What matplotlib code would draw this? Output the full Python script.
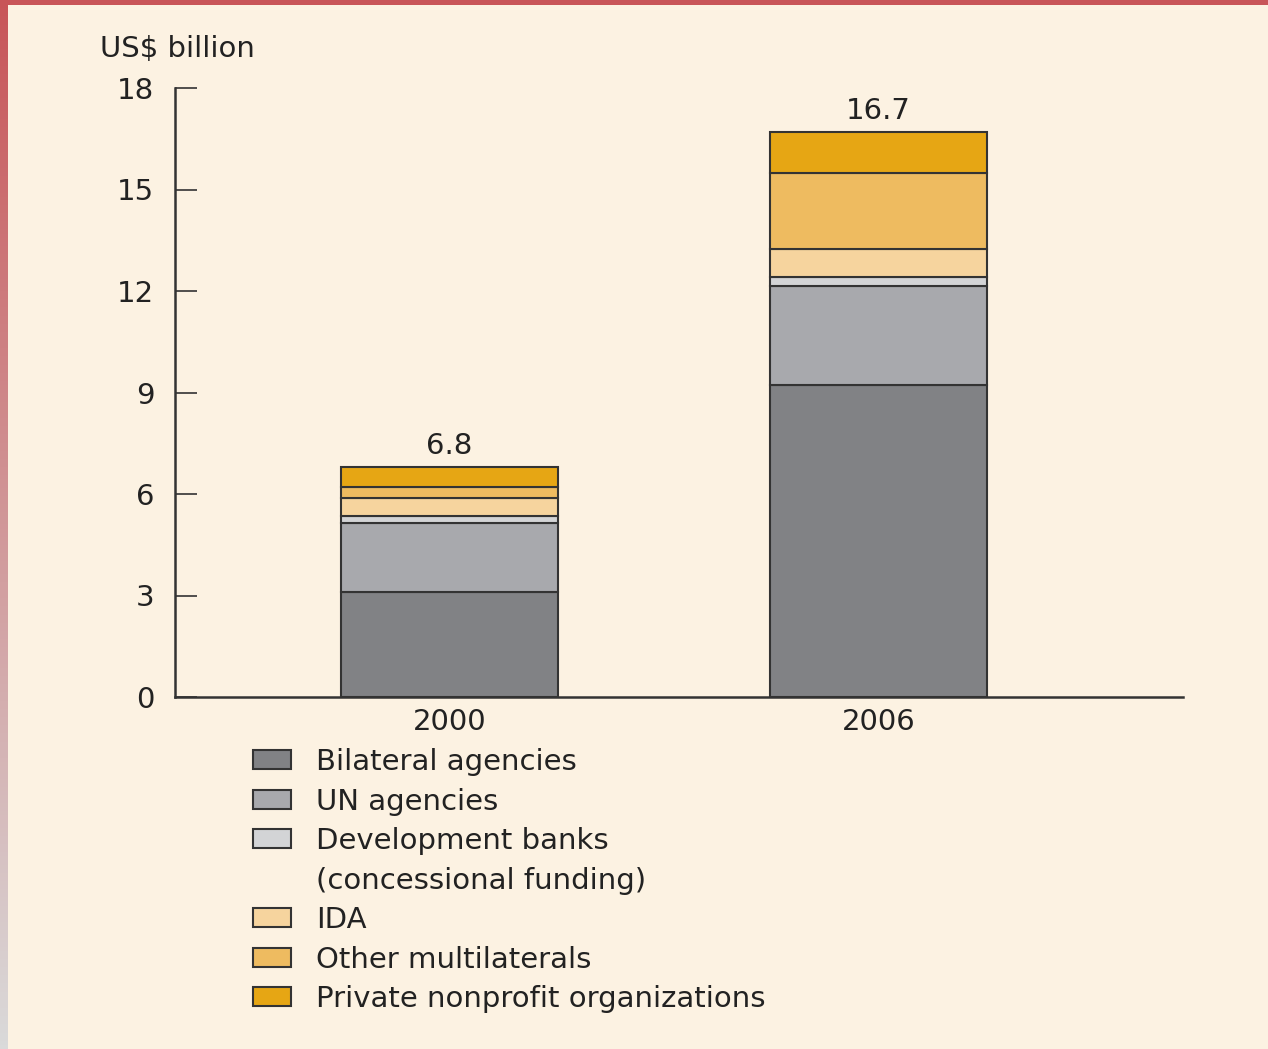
import numpy as np
import matplotlib
matplotlib.use("Agg")
import matplotlib.pyplot as plt
from matplotlib.patches import Patch

# Aid for health by channel, US$ billion
years = ["2000", "2006"]
totals = [6.8, 16.7]
categories = ["Bilateral agencies", "UN agencies", "Development banks",
              "(concessional funding)", "IDA", "Other multilaterals",
              "Private nonprofit organizations"]
bilateral = [3.09, 9.23]
un_agencies = [2.05, 2.93]
dev_banks = [0.22, 0.25]
ida = [0.52, 0.83]
other_multi = [0.33, 2.26]
private_np = [0.59, 1.20]
colors = ["#818285", "#a8a9ad", "#d3d4d6", "#f6d49e", "#eebb60", "#e6a614"]

series = [bilateral, un_agencies, dev_banks, ida, other_multi, private_np]

bg = "#fcf2e2"
txt = "#222222"
plt.rcParams["font.family"] = ["DejaVu Sans"]
fs = 21

fig = plt.figure(figsize=(12.68, 10.49), dpi=100, facecolor=bg)
ax = fig.add_axes([175 / 1268, 1 - 697 / 1049, 1008 / 1268, 609 / 1049])
ax.set_facecolor(bg)

x = np.arange(len(years))
bottom = np.zeros(len(years))
for vals, c in zip(series, colors):
    ax.bar(x, vals, width=0.506, bottom=bottom, color=c,
           edgecolor="#333333", linewidth=1.5)
    bottom += np.array(vals)

for xi, t in zip(x, totals):
    ax.annotate(f"{t:.1f}", (xi, t), xytext=(0, 5), textcoords="offset points",
                ha="center", va="bottom", fontsize=fs, color=txt)

ax.set_xlim(-0.64, 1.71)
ax.set_ylim(0, 18)
ax.set_yticks([0, 3, 6, 9, 12, 15, 18])
ax.set_xticks(x)
ax.set_xticklabels(years)
ax.tick_params(axis="y", direction="in", length=16, width=1.2, color="#333333",
               pad=15, labelsize=fs, labelcolor=txt)
ax.tick_params(axis="x", length=0, pad=8, labelsize=fs, labelcolor=txt)
for s in ["top", "right"]:
    ax.spines[s].set_visible(False)
for s in ["left", "bottom"]:
    ax.spines[s].set_color("#333333")
    ax.spines[s].set_linewidth(1.8)

fig.text(100 / 1268, 1 - 49 / 1049, "US$ billion", ha="left", va="center",
         fontsize=fs, color=txt)

# legend: the second line of the development banks label gets an empty handle
handles = [Patch(facecolor=c, edgecolor="#333333", linewidth=1.5) for c in colors]
handles.insert(3, Patch(facecolor="none", edgecolor="none"))
fig.legend(handles, categories, loc="upper left",
           bbox_to_anchor=(253 / 1268, 1 - 748 / 1049), frameon=False,
           fontsize=fs, handlelength=1.3, handleheight=0.62,
           handletextpad=0.85, labelspacing=0.395, borderpad=0,
           borderaxespad=0, labelcolor=txt)

# page border: red top stripe, fading left stripe
grad = np.linspace(0, 1, 256)[:, None]
top_c = np.array([200, 85, 88]) / 255
bot_c = np.array([218, 218, 218]) / 255
img = top_c[None, None, :] * (1 - grad[..., None]) + bot_c[None, None, :] * grad[..., None]
bax = fig.add_axes([0, 0, 8 / 1268, 1])
bax.imshow(img, aspect="auto", extent=[0, 1, 0, 1])
bax.axis("off")
tax = fig.add_axes([0, 1 - 5 / 1049, 1, 5 / 1049])
tax.set_facecolor("#c85558")
tax.set_xticks([])
tax.set_yticks([])
for s in tax.spines.values():
    s.set_visible(False)

fig.savefig("out.png", dpi=100, facecolor=bg)
